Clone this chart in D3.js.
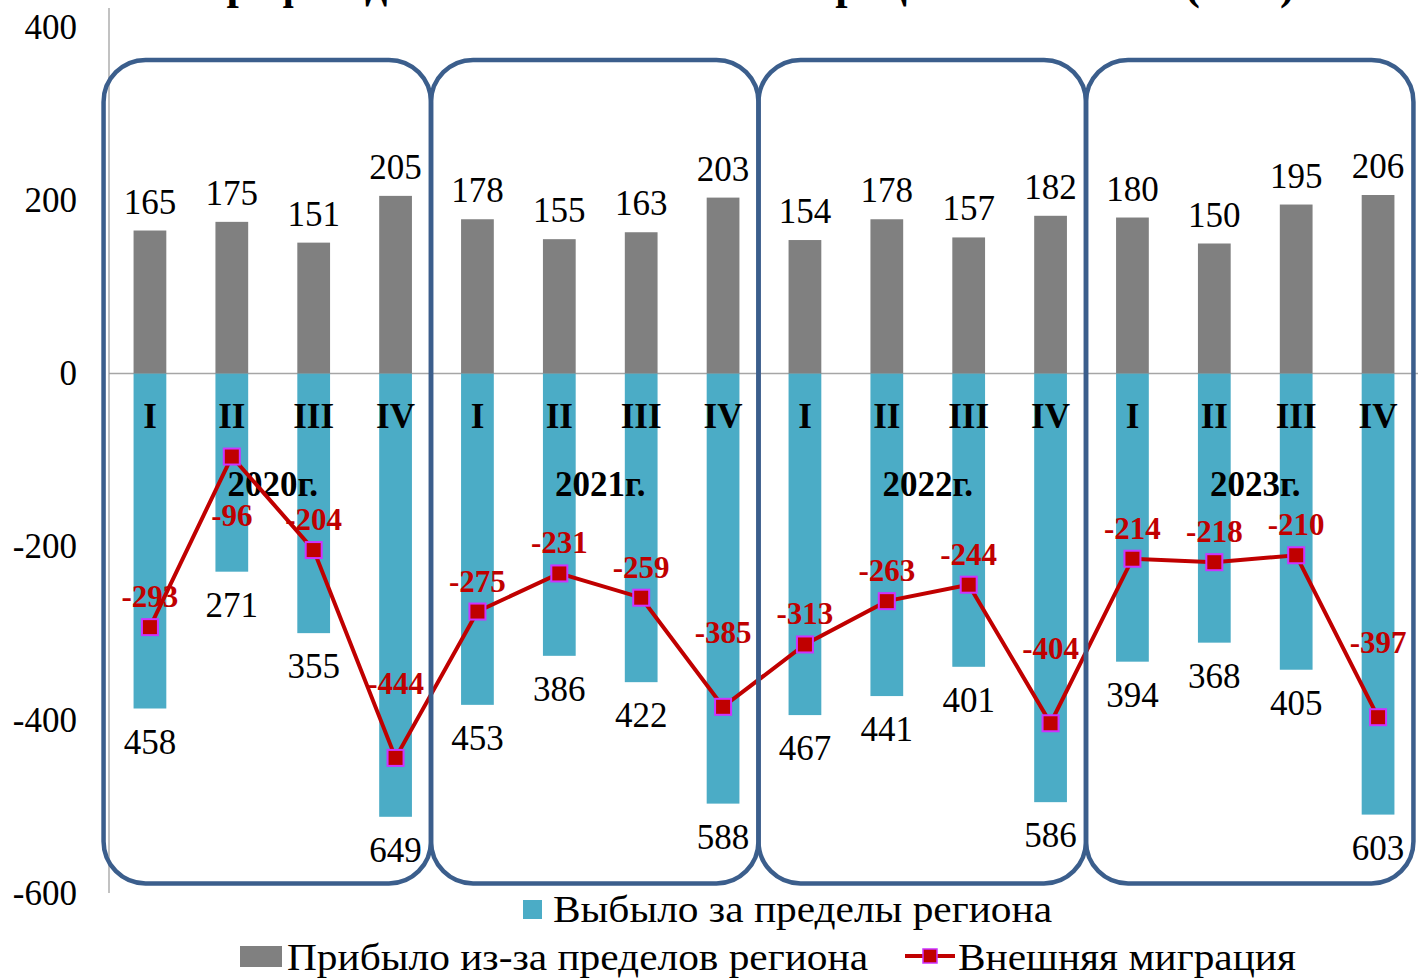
<!DOCTYPE html>
<head>
  <meta charset="utf-8">
  <script src="https://d3js.org/d3.v7.min.js"></script>
  <style>
    body { margin:0; background:#fff; }
    text { font-family: "Times New Roman", "Liberation Serif", serif; }
  </style>
</head>

<body>
  <script>

  // data
  var years = ["2020г.", "2021г.", "2022г.", "2023г."];
  var quarters = ["I", "II", "III", "IV"];
  var arrived = [165, 175, 151, 205, 178, 155, 163, 203, 154, 178, 157, 182, 180, 150, 195, 206];
  var departed = [458, 271, 355, 649, 453, 386, 422, 588, 467, 441, 401, 586, 394, 368, 405, 603];
  var netMigration = [-293, -96, -204, -444, -275, -231, -259, -385, -313, -263, -244, -404, -214, -218, -210, -397];
  var yTicks = [400, 200, 0, -200, -400, -600];
  var titleText = "График движения внешней миграции населения (чел.)";
  var legendOut = "Выбыло за пределы региона";
  var legendIn = "Прибыло из-за пределов региона";
  var legendNet = "Внешняя миграция";

  var width = 1418, height = 979;
  var plotLeft = 109, plotRight = 1419, plotTop = 8;

  var blue = "#4bacc6", grey = "#808080", red = "#c00000", boxColor = "#3b5e8c";

  // one key per quarter
  var keys = [];
  years.forEach(function(yr) {
    quarters.forEach(function(q) { keys.push(yr + q); });
  });

  var svg = d3.select("body").append("svg")
    .attr("width", width)
    .attr("height", height);

  var x = d3.scaleBand()
    .domain(keys)
    .range([plotLeft, plotRight])
    .paddingInner(0.6)
    .paddingOuter(0.3);

  var y = d3.scaleLinear()
    .domain([-600, 400])
    .range([893, 27]);

  // outflow bars sit on their own (secondary) scale in the original
  var yOut = d3.scaleLinear()
    .domain([0, 606])
    .range([y(0), y(-512)])
    .clamp(true);

  // title, mostly cut by the top edge as in the picture
  svg.append("text")
    .attr("x", 748)
    .attr("y", -1)
    .attr("text-anchor", "middle")
    .attr("font-size", 44)
    .attr("font-weight", "bold")
    .text(titleText);

  // zero line
  svg.append("line")
    .attr("x1", plotLeft).attr("x2", plotRight)
    .attr("y1", y(0)).attr("y2", y(0))
    .attr("stroke", "#a6a6a6")
    .attr("stroke-width", 1.5);

  // left axis
  svg.append("line")
    .attr("x1", plotLeft).attr("x2", plotLeft)
    .attr("y1", plotTop).attr("y2", y(-600))
    .attr("stroke", "#999")
    .attr("stroke-width", 1.2);

  var axisG = svg.append("g")
    .attr("transform", "translate(" + plotLeft + ",0)")
    .call(d3.axisLeft(y)
      .tickValues(yTicks)
      .tickFormat(function(d) { return String(d); })
      .tickSize(0)
      .tickPadding(32));
  axisG.select(".domain").remove();
  axisG.selectAll("text")
    .attr("font-family", "Times New Roman, Liberation Serif, serif")
    .attr("font-size", 35)
    .attr("fill", "#000");

  // outflow bars
  svg.selectAll(".outBar")
    .data(departed)
    .enter().append("rect")
    .attr("class", "outBar")
    .attr("x", function(d, i) { return x(keys[i]); })
    .attr("y", y(0))
    .attr("width", x.bandwidth())
    .attr("height", function(d) { return yOut(d) - y(0); })
    .attr("fill", blue);

  // inflow bars
  svg.selectAll(".inBar")
    .data(arrived)
    .enter().append("rect")
    .attr("class", "inBar")
    .attr("x", function(d, i) { return x(keys[i]); })
    .attr("y", function(d) { return y(d); })
    .attr("width", x.bandwidth())
    .attr("height", function(d) { return y(0) - y(d); })
    .attr("fill", grey);

  var cx = function(i) { return x(keys[i]) + x.bandwidth() / 2; };

  // value labels
  svg.selectAll(".inLabel")
    .data(arrived)
    .enter().append("text")
    .attr("x", function(d, i) { return cx(i); })
    .attr("y", function(d) { return y(d) - 17; })
    .attr("text-anchor", "middle")
    .attr("font-size", 35)
    .text(function(d) { return d; });

  svg.selectAll(".outLabel")
    .data(departed)
    .enter().append("text")
    .attr("x", function(d, i) { return cx(i); })
    .attr("y", function(d) { return yOut(d) + 45; })
    .attr("text-anchor", "middle")
    .attr("font-size", 35)
    .text(function(d) { return d; });

  // quarter numerals and year captions
  svg.selectAll(".quarter")
    .data(keys)
    .enter().append("text")
    .attr("x", function(d, i) { return cx(i); })
    .attr("y", 428)
    .attr("text-anchor", "middle")
    .attr("font-size", 35)
    .attr("font-weight", "bold")
    .text(function(d, i) { return quarters[i % 4]; });

  svg.selectAll(".year")
    .data(years)
    .enter().append("text")
    .attr("x", function(d, i) { return (cx(i * 4) + cx(i * 4 + 3)) / 2; })
    .attr("y", 496)
    .attr("text-anchor", "middle")
    .attr("font-size", 35)
    .attr("font-weight", "bold")
    .text(function(d) { return d; });

  // net migration line
  var line = d3.line()
    .x(function(d, i) { return cx(i); })
    .y(function(d) { return y(d); });

  svg.append("path")
    .datum(netMigration)
    .attr("d", line)
    .attr("fill", "none")
    .attr("stroke", red)
    .attr("stroke-width", 4);

  svg.selectAll(".marker")
    .data(netMigration)
    .enter().append("rect")
    .attr("x", function(d, i) { return cx(i) - 8; })
    .attr("y", function(d) { return y(d) - 8; })
    .attr("width", 16)
    .attr("height", 16)
    .attr("fill", red)
    .attr("stroke", "#cc33ff")
    .attr("stroke-width", 2);

  // label placement: deep dips get the label well above, sharp peaks below
  function labelDy(d, i) {
    var prev = netMigration[i - 1], next = netMigration[i + 1];
    if (prev !== undefined && prev - d > 50 && (next === undefined || next - d > 50)) return -64;
    if (prev !== undefined && next !== undefined && d - prev > 100 && d - next > 100) return 69;
    return -20;
  }

  svg.selectAll(".netLabel")
    .data(netMigration)
    .enter().append("text")
    .attr("x", function(d, i) { return cx(i); })
    .attr("y", function(d, i) { return y(d) + labelDy(d, i); })
    .attr("text-anchor", "middle")
    .attr("font-size", 31)
    .attr("font-weight", "bold")
    .attr("fill", red)
    .text(function(d) { return d; });

  // rounded frames around each year
  svg.selectAll(".yearBox")
    .data(years)
    .enter().append("rect")
    .attr("x", function(d, i) { return x(keys[i * 4]) - 30; })
    .attr("y", y(362))
    .attr("width", function(d, i) { return x(keys[i * 4 + 3]) + x.bandwidth() + 19 - x(keys[i * 4]) + 30; })
    .attr("height", y(-589) - y(362))
    .attr("rx", 42)
    .attr("ry", 42)
    .attr("fill", "none")
    .attr("stroke", boxColor)
    .attr("stroke-width", 4.5);

  // legend (the original text is set a little wide)
  var legend = svg.append("g");

  legend.append("rect")
    .attr("x", 523).attr("y", 900)
    .attr("width", 19).attr("height", 19)
    .attr("fill", blue);
  legend.append("text")
    .attr("x", 553).attr("y", 922)
    .attr("font-size", 37)
    .attr("textLength", 499)
    .attr("lengthAdjust", "spacingAndGlyphs")
    .text(legendOut);

  legend.append("rect")
    .attr("x", 240).attr("y", 946)
    .attr("width", 42).attr("height", 21)
    .attr("fill", grey);
  legend.append("text")
    .attr("x", 287).attr("y", 970)
    .attr("font-size", 37)
    .attr("textLength", 581)
    .attr("lengthAdjust", "spacingAndGlyphs")
    .text(legendIn);

  legend.append("line")
    .attr("x1", 905).attr("x2", 955)
    .attr("y1", 956).attr("y2", 956)
    .attr("stroke", red)
    .attr("stroke-width", 4);
  legend.append("rect")
    .attr("x", 923).attr("y", 949)
    .attr("width", 14).attr("height", 14)
    .attr("fill", red)
    .attr("stroke", "#cc33ff")
    .attr("stroke-width", 1.5);
  legend.append("text")
    .attr("x", 958).attr("y", 970)
    .attr("font-size", 37)
    .attr("textLength", 338)
    .attr("lengthAdjust", "spacingAndGlyphs")
    .text(legendNet);

  </script>
</body>
